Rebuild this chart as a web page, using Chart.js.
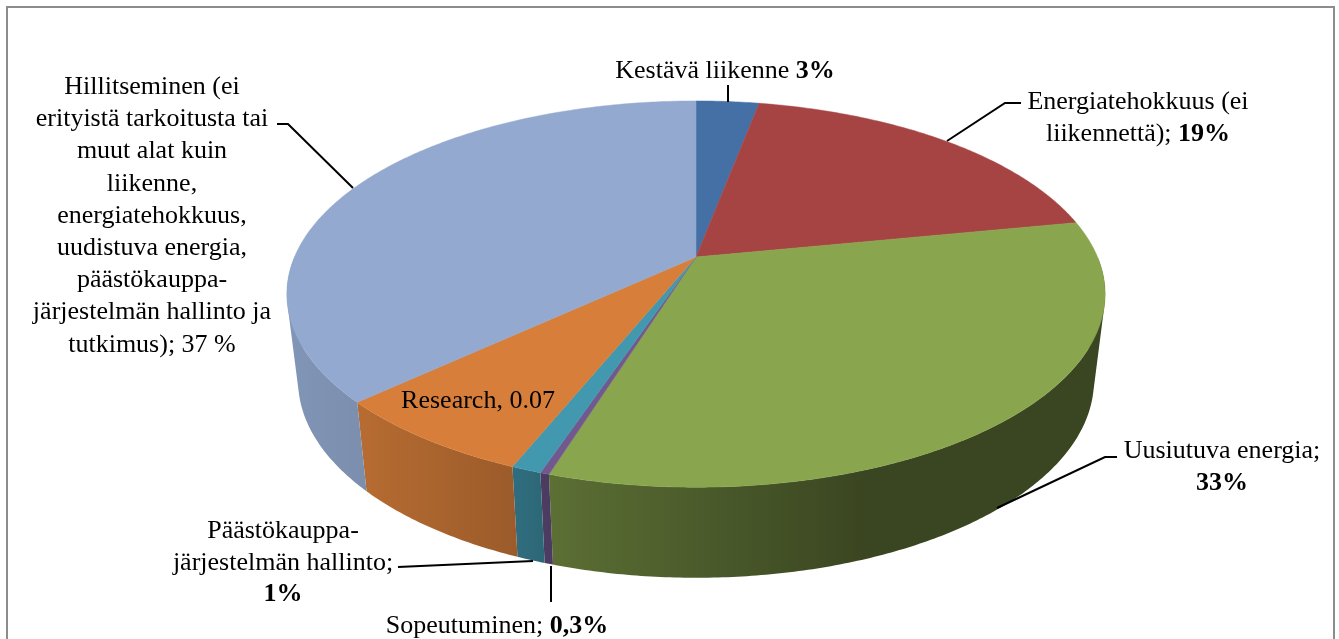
<!DOCTYPE html>
<html>
<head>
<meta charset="utf-8">
<style>
  html, body { margin: 0; padding: 0; background: #fff; overflow: hidden; }
  #chart-1 { display: block; }
</style>
<script src="https://cdn.jsdelivr.net/npm/chart.js@4"></script>
</head>
<body>
<canvas id="chart-1" width="1339" height="639"></canvas>
<script>
const categories = [
  "Kestävä liikenne",
  "Energiatehokkuus (ei liikennettä)",
  "Uusiutuva energia",
  "Sopeutuminen",
  "Päästökauppajärjestelmän hallinto",
  "Research",
  "Hillitseminen",
];
const values = [3, 19, 33, 0.3, 1, 7, 37];
const sliceColors = ["#4570a6", "#a64444", "#89a54e", "#71588f", "#4198af", "#d77f3a", "#93a9cf"];

// [text, bold] runs per line
const labelHillitseminen = [
  [["Hillitseminen (ei", false]],
  [["erityistä tarkoitusta tai", false]],
  [["muut alat kuin", false]],
  [["liikenne,", false]],
  [["energiatehokkuus,", false]],
  [["uudistuva energia,", false]],
  [["päästökauppa-", false]],
  [["järjestelmän hallinto ja", false]],
  [["tutkimus); 37 %", false]],
];
const labelKestava = [[["Kestävä liikenne ", false], ["3%", true]]];
const labelEnergia = [[["Energiatehokkuus (ei", false]], [["liikennettä); ", false], ["19%", true]]];
const labelUusiutuva = [[["Uusiutuva energia;", false]], [["33%", true]]];
const labelPaasto = [[["Päästökauppa-", false]], [["järjestelmän hallinto;", false]], [["1%", true]]];
const labelSopeutuminen = [[["Sopeutuminen; ", false], ["0,3%", true]]];
const labelResearch = [[["Research, 0.07", false]]];

// perspective of the two pie planes
const persp = 0.192;
const topPlane = { x: 696, y: 257, rx: 401.5, ry: 186 };
const bottomPlane = { x: 696, y: 343, rx: 390.5, ry: 189.7 };

// wall darkness along x
const wallShade = [
  [287, 0.88], [368, 0.84], [515, 0.72], [550, 0.67], [700, 0.55], [870, 0.42], [1105, 0.42],
];

function project(plane, angle) {
  const u = Math.sin(angle);
  const v = Math.cos(angle);
  const w = 1 + persp * v;
  return [plane.x + (plane.rx * u) / w, plane.y - (plane.ry * v) / w];
}

function arcPoints(plane, start, end) {
  const pts = [];
  const steps = Math.max(2, Math.ceil((end - start) / 0.01));
  for (let i = 0; i <= steps; i++) {
    pts.push(project(plane, start + ((end - start) * i) / steps));
  }
  return pts;
}

function shadeColor(hex, f) {
  const n = parseInt(hex.slice(1), 16);
  const r = Math.round(((n >> 16) & 255) * f);
  const g = Math.round(((n >> 8) & 255) * f);
  const b = Math.round((n & 255) * f);
  return `rgb(${r},${g},${b})`;
}

function addPoly(ctx, pts) {
  pts.forEach((p, i) => (i ? ctx.lineTo(p[0], p[1]) : ctx.moveTo(p[0], p[1])));
  ctx.closePath();
}

// same winding for every strip, otherwise they cancel out near the silhouette
function windSame(pts) {
  let area = 0;
  pts.forEach((p, i) => {
    const q = pts[(i + 1) % pts.length];
    area += p[0] * q[1] - q[0] * p[1];
  });
  return area < 0 ? pts.slice().reverse() : pts;
}

const pie3d = {
  id: "pie3d",
  beforeDatasetDraw(chart) {
    const ctx = chart.ctx;
    const arcs = chart.getDatasetMeta(0).data;
    ctx.save();
    // side walls first, all strips of a slice in one path so no seams show
    arcs.forEach((arc, i) => {
      const a = arc.startAngle + Math.PI / 2;
      const b = arc.endAngle + Math.PI / 2;
      const top = arcPoints(topPlane, a, b);
      const bottom = arcPoints(bottomPlane, a, b);
      const grad = ctx.createLinearGradient(287, 0, 1105, 0);
      wallShade.forEach((s) => {
        grad.addColorStop((s[0] - 287) / (1105 - 287), shadeColor(sliceColors[i], s[1]));
      });
      ctx.beginPath();
      for (let k = 0; k < top.length - 1; k++) {
        // back half is hidden by the top face
        if (top[k][1] < topPlane.y) continue;
        addPoly(ctx, windSame([top[k], top[k + 1], bottom[k + 1], bottom[k]]));
      }
      ctx.fillStyle = grad;
      ctx.fill();
    });
    // top face
    arcs.forEach((arc, i) => {
      const a = arc.startAngle + Math.PI / 2;
      const b = arc.endAngle + Math.PI / 2;
      ctx.beginPath();
      addPoly(ctx, [[topPlane.x, topPlane.y]].concat(arcPoints(topPlane, a, b)));
      ctx.fillStyle = sliceColors[i];
      ctx.strokeStyle = sliceColors[i];
      ctx.lineWidth = 0.5;
      ctx.fill();
      ctx.stroke();
    });
    ctx.restore();
    return false;
  },
  afterDraw(chart) {
    const ctx = chart.ctx;
    ctx.save();
    // frame, runs off the bottom of the crop
    ctx.strokeStyle = "#8c8c8c";
    ctx.lineWidth = 2;
    ctx.strokeRect(7, 7, 1327, 660);

    ctx.strokeStyle = "#000";
    ctx.lineWidth = 2;
    [
      [[728, 85], [728, 102]],
      [[1021, 103], [1005, 103], [947, 141]],
      [[1117, 457], [1105, 457], [997, 508]],
      [[277, 124], [288, 124], [353, 188]],
      [[398, 567], [533, 561]],
      [[551, 566], [551, 602]],
    ].forEach((line) => {
      ctx.beginPath();
      line.forEach((p, i) => (i ? ctx.lineTo(p[0], p[1]) : ctx.moveTo(p[0], p[1])));
      ctx.stroke();
    });

    drawLabel(ctx, labelHillitseminen, 152, 94, 32.2);
    drawLabel(ctx, labelKestava, 725, 78, 32);
    drawLabel(ctx, labelEnergia, 1138, 109, 32);
    drawLabel(ctx, labelUusiutuva, 1222, 458, 32);
    drawLabel(ctx, labelPaasto, 283, 538, 31.5);
    drawLabel(ctx, labelSopeutuminen, 497, 633, 32);
    drawLabel(ctx, labelResearch, 478, 408, 32);
    ctx.restore();
  },
};

function fontFor(bold) {
  return `${bold ? "bold " : ""}26px "Liberation Serif", serif`;
}

function drawLabel(ctx, lines, cx, y, step) {
  ctx.fillStyle = "#000";
  ctx.textBaseline = "alphabetic";
  ctx.textAlign = "left";
  lines.forEach((runs, n) => {
    let width = 0;
    runs.forEach((r) => {
      ctx.font = fontFor(r[1]);
      width += ctx.measureText(r[0]).width;
    });
    let x = cx - width / 2;
    runs.forEach((r) => {
      ctx.font = fontFor(r[1]);
      ctx.fillText(r[0], x, y + n * step);
      x += ctx.measureText(r[0]).width;
    });
  });
}

new Chart(document.getElementById("chart-1"), {
  type: "pie",
  data: {
    labels: categories,
    datasets: [{ label: "dataset", data: values, backgroundColor: sliceColors }],
  },
  options: {
    responsive: false,
    animation: { duration: 0 },
    plugins: { legend: { display: false }, tooltip: { enabled: false } },
  },
  plugins: [pie3d],
});
</script>
</body>
</html>
